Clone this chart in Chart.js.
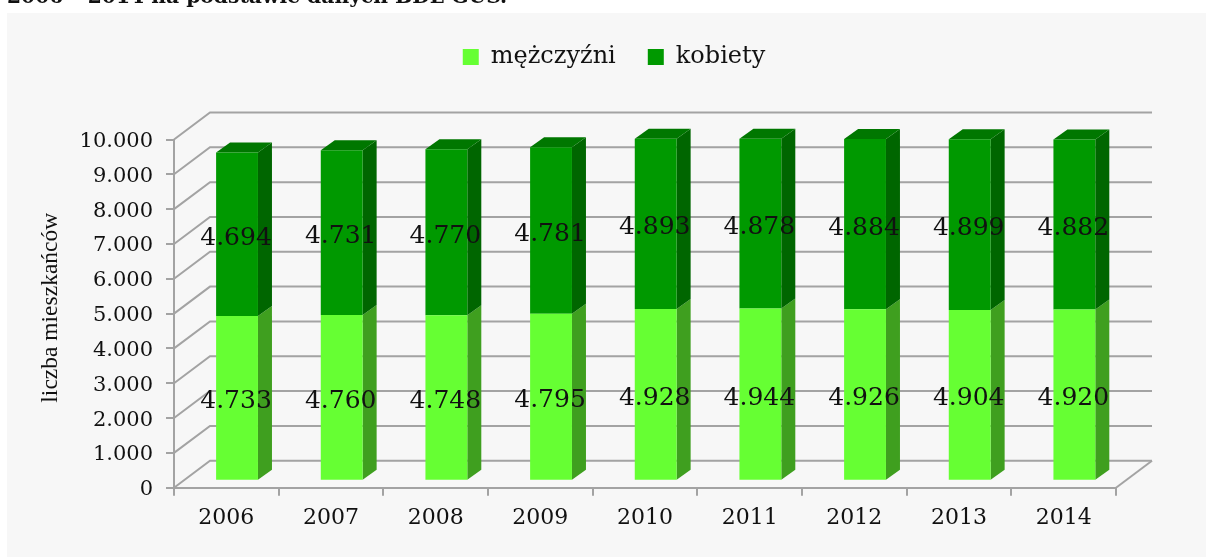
<!DOCTYPE html>
<html>
<head>
<meta charset="utf-8">
<style>
  html, body { margin: 0; padding: 0; background: #fff; overflow: hidden; }
  #wrap { position: relative; width: 1206px; height: 558px; overflow: hidden; }
  #panel { position: absolute; left: 7px; top: 13px; right: 0; bottom: 1px; background: #f7f7f7; }
  #heading { position: absolute; left: 7px; top: -16px; font: bold 20.3px "DejaVu Serif"; color: #111; white-space: nowrap; }
  #chartCanvas { position: absolute; left: 0; top: 0; }
</style>
<script src="https://cdn.jsdelivr.net/npm/chart.js@4"></script>
</head>
<body>
<div id="wrap">
  <div id="panel"></div>
  <canvas id="chartCanvas" width="1206" height="558"></canvas>
  <div id="heading">2006 – 2014 na podstawie danych BDL GUS.</div>
</div>
<script>
const years = ["2006", "2007", "2008", "2009", "2010", "2011", "2012", "2013", "2014"];
const men = [4733, 4760, 4748, 4795, 4928, 4944, 4926, 4904, 4920];
const women = [4694, 4731, 4770, 4781, 4893, 4878, 4884, 4899, 4882];
const seriesNames = ["mężczyźni", "kobiety"];
const yAxisTitle = "\u00A0\u00A0liczba mieszkańców";

const serif = "'DejaVu Serif'";
const wallColor = "#a3a3a3";
const sideColors = ["#3f9f1f", "#006600"];
const topColor = "#007700";

// thousands separator is a dot in the original
const fmt = v => String(v).replace(/\B(?=(\d{3})+$)/g, ".");

// fake 3D: walls and bar sides are worked out from the real scales
const depth3d = {
    id: "depth3d",
    afterLayout(chart) {
        // legend sits higher and further right than chart.js puts it
        const l = chart.legend;
        const h = l.bottom - l.top;
        l.left += 56; l.right += 56;
        l.top = 46 - h / 2; l.bottom = 46 + h / 2;
    },
    beforeDatasetsDraw(chart) {
        const { ctx, scales: { x, y } } = chart;
        const dx = 36, dy = -27;

        ctx.save();
        ctx.strokeStyle = wallColor;
        ctx.lineWidth = 2;
        y.ticks.forEach(t => {
            const py = y.getPixelForValue(t.value);
            ctx.beginPath();
            ctx.moveTo(x.left, py);
            ctx.lineTo(x.left + dx, py + dy);
            ctx.lineTo(x.right + dx, py + dy);
            ctx.stroke();
        });
        // floor edge on the right
        ctx.beginPath();
        ctx.moveTo(x.right, y.bottom);
        ctx.lineTo(x.right + dx, y.bottom + dy);
        ctx.stroke();
        ctx.restore();

        // bars stand in the middle of the floor, restored in afterDatasetsDraw
        ctx.save();
        ctx.translate(10.7, -7);
        const sx = 14, sy = -10;
        chart.data.datasets.forEach((ds, di) => {
            chart.getDatasetMeta(di).data.forEach(el => {
                const r = el.x + el.width / 2, l = el.x - el.width / 2;
                ctx.fillStyle = sideColors[di];
                ctx.beginPath();
                ctx.moveTo(r, el.y);
                ctx.lineTo(r + sx, el.y + sy);
                ctx.lineTo(r + sx, el.base + sy);
                ctx.lineTo(r, el.base);
                ctx.closePath();
                ctx.fill();
                if (di === chart.data.datasets.length - 1) {
                    ctx.fillStyle = topColor;
                    ctx.beginPath();
                    ctx.moveTo(l, el.y);
                    ctx.lineTo(l + sx, el.y + sy);
                    ctx.lineTo(r + sx, el.y + sy);
                    ctx.lineTo(r, el.y);
                    ctx.closePath();
                    ctx.fill();
                }
            });
        });
    },
    afterDatasetsDraw(chart) {
        const { ctx } = chart;
        ctx.font = "25px " + serif;
        ctx.fillStyle = "#111";
        ctx.textAlign = "center";
        ctx.textBaseline = "middle";
        chart.data.datasets.forEach((ds, di) => {
            chart.getDatasetMeta(di).data.forEach((el, i) => {
                ctx.fillText(fmt(ds.data[i]), el.x - 1, (el.y + el.base) / 2 + 4);
            });
        });
        ctx.restore();
    }
};

new Chart(document.getElementById("chartCanvas").getContext("2d"), {
    type: "bar",
    data: {
        labels: years,
        datasets: [
            { label: seriesNames[0], data: men, backgroundColor: "#66ff33", stack: "s", clip: false },
            { label: seriesNames[1], data: women, backgroundColor: "#009900", stack: "s", clip: false },
        ],
    },
    options: {
        responsive: false,
        animation: false,
        barPercentage: 0.4,
        categoryPercentage: 1,
        layout: { padding: { top: 73.5, right: 90, left: 0, bottom: 0 } },
        plugins: {
            tooltip: { enabled: false },
            legend: {
                position: "top",
                labels: {
                    boxWidth: 16,
                    boxHeight: 16,
                    padding: 32,
                    color: "#111",
                    font: { family: serif, size: 24 },
                },
            },
        },
        scales: {
            x: {
                stacked: true,
                afterFit(s) { s.height = 70.3; },
                grid: { drawOnChartArea: false, tickLength: 8, color: wallColor, lineWidth: 2 },
                border: { color: wallColor, width: 2 },
                ticks: { color: "#111", padding: 9, maxRotation: 0, font: { family: serif, size: 22 } },
            },
            y: {
                stacked: true,
                min: 0,
                max: 10000,
                afterFit(s) { s.width = 174; },
                grid: { drawOnChartArea: false, tickLength: 8, color: wallColor, lineWidth: 2 },
                border: { color: wallColor, width: 2 },
                ticks: {
                    stepSize: 1000,
                    color: "#111",
                    padding: 13,
                    labelOffset: 2,
                    font: { family: serif, size: 21 },
                    callback: v => fmt(v),
                },
                title: {
                    display: true,
                    text: yAxisTitle,
                    color: "#111",
                    padding: { top: 37, bottom: 0 },
                    font: { family: "'Liberation Serif'", size: 23.5 },
                },
            },
        },
    },
    plugins: [depth3d],
});
</script>
</body>
</html>
